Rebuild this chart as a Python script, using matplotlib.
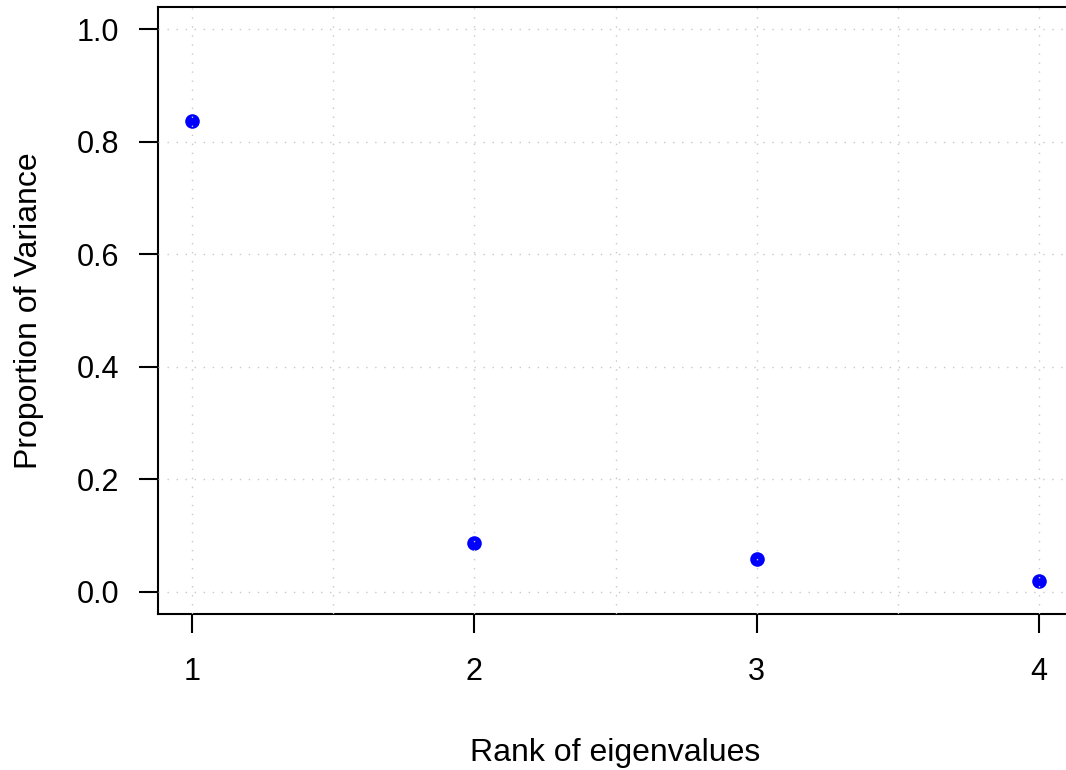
import matplotlib as mpl
mpl.use('Agg')
import matplotlib.pyplot as plt
import numpy as np

# Proportion of variance explained by each eigenvalue
ranks = [1, 2, 3, 4]
prop_var = [0.837, 0.086, 0.057, 0.019]

x_ticks = [1, 2, 3, 4]
y_ticks = [0.0, 0.2, 0.4, 0.6, 0.8, 1.0]
y_ticklabels = ['0.0', '0.2', '0.4', '0.6', '0.8', '1.0']
x_grid = [1, 1.5, 2, 2.5, 3, 3.5, 4]

plt.rcParams['font.family'] = ['Liberation Sans', 'DejaVu Sans']

fig = plt.figure(figsize=(10.66, 7.7), dpi=100)
ax = fig.add_axes([0.1482, 0.2026, 0.8584, 0.7883])

ax.plot(ranks, prop_var, 'o', color='blue', markersize=10.5,
        markeredgewidth=0, zorder=2)

# dotted grid drawn on top of the points
for gx in x_grid:
    ax.axvline(gx, color='#c8c8c8', lw=1.0, dashes=(1, 5.5), zorder=3)
for gy in y_ticks:
    ax.axhline(gy, color='#c8c8c8', lw=1.0, dashes=(1, 5.5), zorder=3)

ax.set_xlim(0.88, 4.12)
ax.set_ylim(-0.04, 1.04)
ax.set_xticks(x_ticks)
ax.set_xticklabels([str(r) for r in x_ticks])
ax.set_yticks(y_ticks)
ax.set_yticklabels(y_ticklabels)

for s in ax.spines.values():
    s.set_linewidth(1.5)
ax.tick_params(axis='both', direction='out', length=13.7, width=1.5,
               labelsize=22)
ax.tick_params(axis='x', pad=17)
ax.tick_params(axis='y', pad=14)

ax.set_xlabel('Rank of eigenvalues', fontsize=23, labelpad=37)
ax.set_ylabel('Proportion of Variance', fontsize=23, labelpad=24)

fig.savefig('out.png', dpi=100)
